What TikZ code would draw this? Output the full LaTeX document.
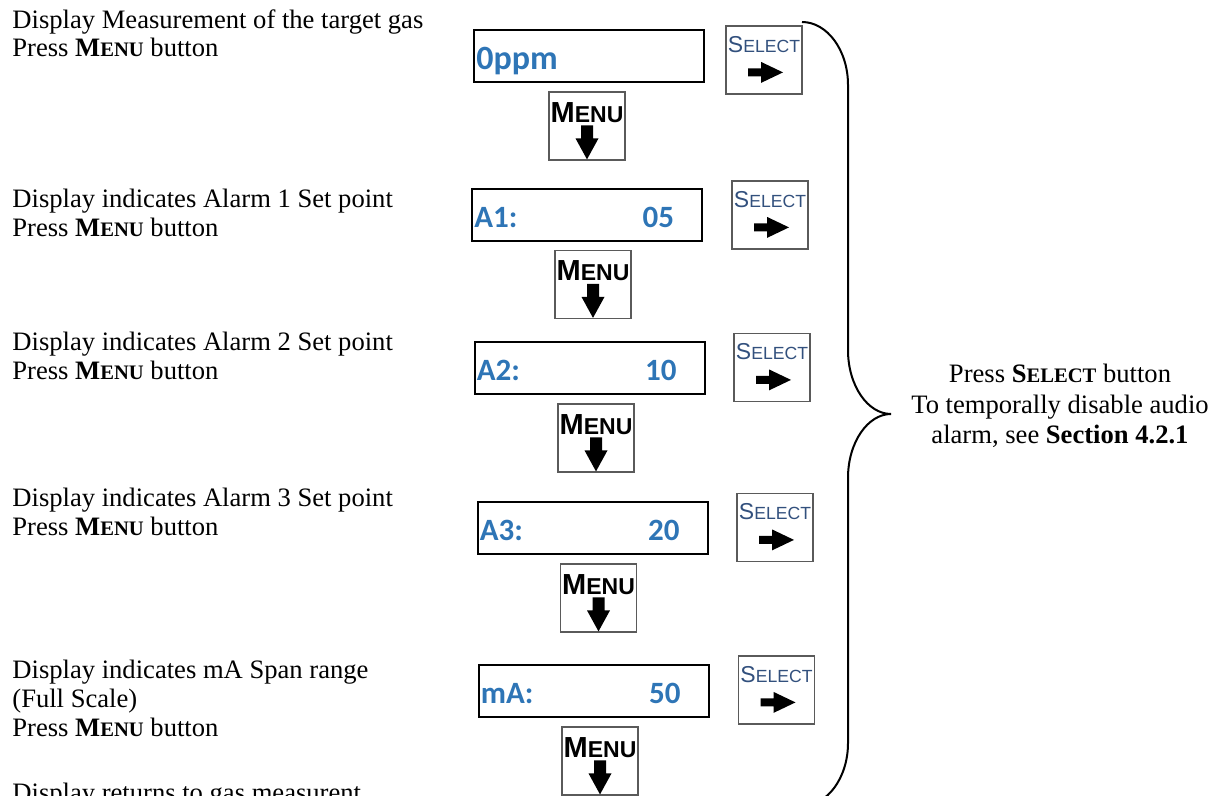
\documentclass[tikz,border=0pt]{standalone}
\usepackage{fontspec}
\setmainfont{Liberation Serif}
\newfontfamily\dispfont{Carlito}
\newfontfamily\btnfont{Liberation Sans}
\usetikzlibrary{calc}
\definecolor{dispblue}{RGB}{46,117,182}
\definecolor{selblue}{RGB}{50,80,125}
\definecolor{btnedge}{RGB}{90,90,90}
\newcommand\menuw{\textbf{M{\fontsize{10.3}{11}\selectfont ENU}}}
\newcommand\selw{\textbf{S{\fontsize{10.3}{11}\selectfont ELECT}}}
\newcommand\menulabel{{\fontsize{14.5}{16}\selectfont M}{\fontsize{11.5}{13}\selectfont ENU}}
\newcommand\sellabel{{\fontsize{11.5}{12}\selectfont S}{\fontsize{8.8}{10}\selectfont ELECT}}
\tikzset{
  disp/.style={draw=black, line width=1pt, minimum width=115pt, minimum height=26pt, inner sep=0pt},
  btn/.style={draw=btnedge, line width=0.6pt, minimum width=38pt, minimum height=34pt, inner sep=0pt},
  dtext/.style={font=\dispfont\bfseries\fontsize{15.5}{17}\selectfont, text=dispblue, inner sep=0pt},
  ltext/.style={font=\fontsize{13.3}{15}\selectfont, anchor=base west, inner sep=0pt},
  rtext/.style={font=\fontsize{13.3}{15}\selectfont, anchor=base, inner sep=0pt},
  menulbl/.style={font=\btnfont\bfseries, anchor=base, inner sep=0pt},
  sellbl/.style={font=\btnfont, text=selblue, anchor=base, inner sep=0pt},
  arr/.style={fill=black},
  bracestyle/.style={draw=black, line width=1pt}
}
\begin{document}
\begin{tikzpicture}[x=0.5pt, y=-0.5pt]
\useasboundingbox (0,0) rectangle (1215,796);
\clip (0,0) rectangle (1215,796);

% displays
\node[disp] (d1) at (589,56) {};
\node[dtext, font=\dispfont\bfseries\fontsize{17}{19}\selectfont, anchor=base west] (v1) at ($(d1.north west)+(3,41)$) {0ppm};
\node[disp] (d2) at (587,215.5) {};
\node[dtext, anchor=base west] (l2) at ($(d2.north west)+(3,39.5)$) {A1:};
\node[dtext, anchor=base east] (v2) at ($(d2.north east)+(-28.5,39.5)$) {05};
\node[disp] (d3) at (589.5,368) {};
\node[dtext, anchor=base west] (l3) at ($(d3.north west)+(3,39.5)$) {A2:};
\node[dtext, anchor=base east] (v3) at ($(d3.north east)+(-28.5,39.5)$) {10};
\node[disp] (d4) at (592.5,528) {};
\node[dtext, anchor=base west] (l4) at ($(d4.north west)+(3,39.5)$) {A3:};
\node[dtext, anchor=base east] (v4) at ($(d4.north east)+(-28.5,39.5)$) {20};
\node[disp] (d5) at (593.5,691) {};
\node[dtext, anchor=base west] (l5) at ($(d5.north west)+(3,39.5)$) {mA:};
\node[dtext, anchor=base east] (v5) at ($(d5.north east)+(-28.5,39.5)$) {50};

% buttons
\foreach \i/\sx/\sy/\mx/\my in {1/764/60/587/126, 2/770/215/593/284.5, 3/772/367.5/596/438, 4/775/527.5/598.5/598, 5/776.5/690/600/761}{
  \node[btn] (s\i) at (\sx,\sy) {};
  \node[sellbl] (st\i) at ($(s\i.north)+(0,27)$) {\sellabel};
  \begin{scope}[shift={(s\i.north)}]
    \fill[arr] (-16,43) -- (-3,43) -- (-3,36.5) -- (19,47) -- (-3,57.5) -- (-3,51) -- (-16,51) -- cycle;
  \end{scope}
  \node[btn] (m\i) at (\mx,\my) {};
  \node[menulbl] (mt\i) at ($(m\i.north)+(0,31)$) {\menulabel};
  \begin{scope}[shift={(m\i.north)}]
    \fill[arr] (-6,34) -- (6,34) -- (6,47) -- (11.5,47) -- (0,68) -- (-11.5,47) -- (-6,47) -- cycle;
  \end{scope}
}

% left texts
\node[ltext] (t1a) at (12,28.5) {Display Measurement of the target gas};
\node[ltext] (t1b) at (12,57) {Press \menuw{} button};
\node[ltext] (t2a) at (12,207.5) {Display indicates Alarm 1 Set point};
\node[ltext] (t2b) at (12,236.5) {Press \menuw{} button};
\node[ltext] (t3a) at (12,351) {Display indicates Alarm 2 Set point};
\node[ltext] (t3b) at (12,380) {Press \menuw{} button};
\node[ltext] (t4a) at (12,506) {Display indicates Alarm 3 Set point};
\node[ltext] (t4b) at (12,535) {Press \menuw{} button};
\node[ltext] (t5a) at (12,678) {Display indicates mA Span range};
\node[ltext] (t5b) at (12,707) {(Full Scale)};
\node[ltext] (t5c) at (12,736) {Press \menuw{} button};
\node[ltext] (t6a) at (12,801) {Display returns to gas measurent};

% brace
\draw[bracestyle] (802,22) .. controls (827,22) and (848,50) .. (848,85)
  -- (848,350) .. controls (848,386) and (868,414) .. (891,414)
  .. controls (868,414) and (848,442) .. (848,478)
  -- (848,743) .. controls (848,778) and (827,806) .. (802,806);

% right text
\node[rtext] (r1) at (1060,383) {Press \selw{} button};
\node[rtext] (r2) at (1060,414) {To temporally disable audio};
\node[rtext] (r3) at (1060,444) {alarm, see \textbf{Section 4.2.1}};
\end{tikzpicture}
\end{document}
